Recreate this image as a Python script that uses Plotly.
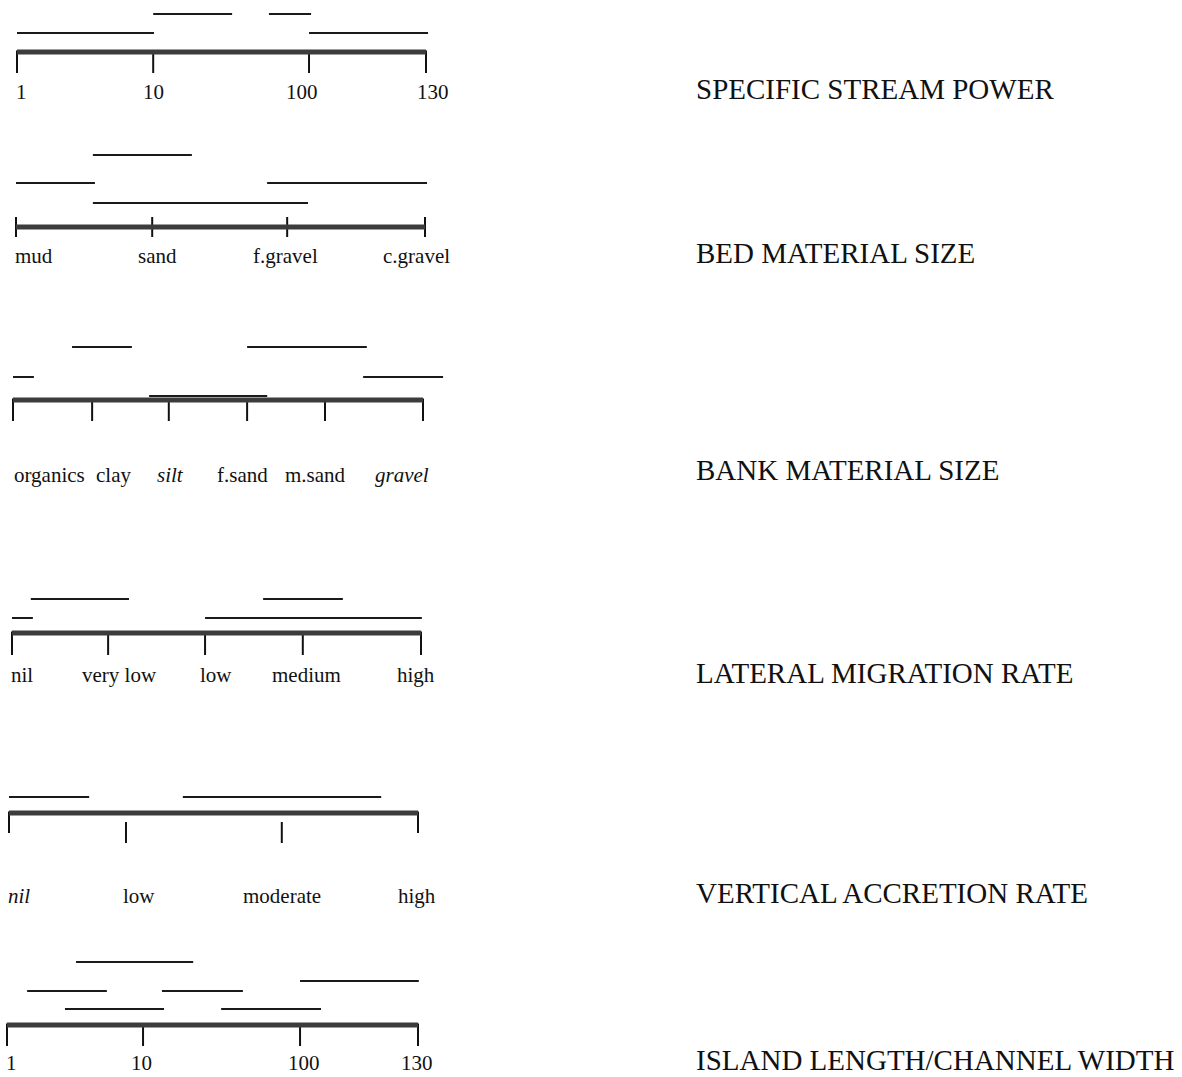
import plotly.graph_objects as go

# ---------------- DATA (positions in % of each scale bar's length) ----------------
# Specific stream power
power_tick_pos = [0, 33.3, 71.4, 100]
power_tick_labels = ["1", "10", "100", "130"]
power_label_pos = [1.2, 33.3, 69.7, 101.7]
power_range_start = [0, 71.4, 33.3, 61.6]
power_range_end = [33.5, 100.5, 52.6, 71.9]
power_range_lane = [1.0, 1.0, 2.0, 2.0]

# Bed material size
bed_tick_pos = [0, 33.3, 66.3, 100]
bed_tick_labels = ["mud", "sand", "f.gravel", "c.gravel"]
bed_label_pos = [4.4, 34.7, 66.0, 97.8]
bed_range_start = [18.8, 0, 61.4, 18.8]
bed_range_end = [71.4, 19.3, 100.5, 43.0]
bed_range_lane = [1.26, 2.32, 2.32, 3.79]

# Bank material size
bank_tick_pos = [0, 19.3, 38.0, 57.1, 76.1, 100]
bank_tick_labels = ["organics", "clay", "<i>silt</i>", "f.sand", "m.sand", "<i>gravel</i>"]
bank_label_pos = [8.8, 24.4, 38.5, 55.9, 73.9, 94.9]
bank_range_start = [33.2, 0, 85.4, 14.4, 57.1]
bank_range_end = [62.0, 5.1, 104.9, 29.0, 86.3]
bank_range_lane = [0.21, 1.21, 1.21, 2.79, 2.79]

# Lateral migration rate
lateral_tick_pos = [0, 23.5, 47.2, 71.1, 100]
lateral_tick_labels = ["nil", "very low", "low", "medium", "high"]
lateral_label_pos = [2.4, 26.4, 49.9, 72.1, 98.8]
lateral_range_start = [0, 47.2, 4.6, 61.4]
lateral_range_end = [5.1, 100.2, 28.6, 80.9]
lateral_range_lane = [0.79, 0.79, 1.79, 1.79]

# Vertical accretion rate
vertical_tick_pos = [0, 28.6, 66.7, 100]
vertical_tick_labels = ["<i>nil</i>", "low", "moderate", "high"]
vertical_label_pos = [2.4, 31.8, 66.7, 99.8]
vertical_range_start = [0, 42.5]
vertical_range_end = [19.6, 91.0]
vertical_range_lane = [0.84, 0.84]

# Island length / channel width
island_tick_pos = [0, 33.1, 71.3, 100]
island_tick_labels = ["1", "10", "100", "130"]
island_label_pos = [1.2, 32.8, 72.3, 99.8]
island_range_start = [16.8, 71.3, 4.9, 37.7, 14.1, 52.1]
island_range_end = [45.3, 100.2, 24.3, 57.4, 38.2, 76.4]
island_range_lane = [3.32, 2.32, 1.79, 1.79, 0.84, 0.84]

titles = ["SPECIFIC STREAM POWER", "BED MATERIAL SIZE", "BANK MATERIAL SIZE",
          "LATERAL MIGRATION RATE", "VERTICAL ACCRETION RATE", "ISLAND LENGTH/CHANNEL WIDTH"]

# ---------------- LAYOUT / STYLE ----------------
W, H = 1182, 1077
LANE_PX = 19.0
FONT = "Liberation Serif"
INK = "#111111"

# per panel (page pixels): bar row, bar left/right, label row, title row, tick style
panel_layout = [
    dict(bar=52, left=17, right=426, label=92, title=89, style="down", tick_len=21),
    dict(bar=227, left=16, right=425, label=256, title=253, style="both", tick_len=10),
    dict(bar=400, left=13, right=423, label=475, title=470, style="down", tick_len=21),
    dict(bar=633, left=12, right=421, label=675, title=673, style="down", tick_len=22),
    dict(bar=813, left=9, right=418, label=896, title=893, style="detached", tick_len=20),
    dict(bar=1025, left=7, right=418, label=1063, title=1060, style="down", tick_len=21),
]
TITLE_X = 694

panels = [
    (power_tick_pos, power_tick_labels, power_label_pos, power_range_start, power_range_end, power_range_lane),
    (bed_tick_pos, bed_tick_labels, bed_label_pos, bed_range_start, bed_range_end, bed_range_lane),
    (bank_tick_pos, bank_tick_labels, bank_label_pos, bank_range_start, bank_range_end, bank_range_lane),
    (lateral_tick_pos, lateral_tick_labels, lateral_label_pos, lateral_range_start, lateral_range_end, lateral_range_lane),
    (vertical_tick_pos, vertical_tick_labels, vertical_label_pos, vertical_range_start, vertical_range_end, vertical_range_lane),
    (island_tick_pos, island_tick_labels, island_label_pos, island_range_start, island_range_end, island_range_lane),
]

fig = go.Figure()
annotations = []
layout_axes = {}

for i, ((tpos, tlab, lpos, rs, re_, rl), cfg) in enumerate(zip(panels, panel_layout), start=1):
    xa = "x" if i == 1 else f"x{i}"
    ya = "y" if i == 1 else f"y{i}"
    span = cfg["right"] - cfg["left"]
    to_u = lambda px: (px - cfg["left"]) / span * 100.0
    to_lane = lambda py: (cfg["bar"] - py) / LANE_PX
    tl = cfg["tick_len"] / LANE_PX

    # range segments
    xs, ys = [], []
    for s, e, l in zip(rs, re_, rl):
        xs += [s, e, None]
        ys += [l, l, None]
    fig.add_trace(go.Scatter(x=xs, y=ys, mode="lines", xaxis=xa, yaxis=ya,
                             line=dict(color="#1a1a1a", width=2), hoverinfo="skip", showlegend=False))

    # ticks
    xs, ys = [], []
    for k, t in enumerate(tpos):
        end = k == 0 or k == len(tpos) - 1
        if cfg["style"] == "both":
            top, bot = tl, -tl
        elif cfg["style"] == "detached" and not end:
            top, bot = -9 / LANE_PX, -30 / LANE_PX
        else:
            top, bot = 0.08, -tl
        xs += [t, t, None]
        ys += [top, bot, None]
    fig.add_trace(go.Scatter(x=xs, y=ys, mode="lines", xaxis=xa, yaxis=ya,
                             line=dict(color=INK, width=2), hoverinfo="skip", showlegend=False))

    # scale bar
    fig.add_trace(go.Scatter(x=[tpos[0], tpos[-1]], y=[0, 0], mode="lines", xaxis=xa, yaxis=ya,
                             line=dict(color="#3c3c3c", width=5), hoverinfo="skip", showlegend=False))

    # tick labels
    for p, txt in zip(lpos, tlab):
        annotations.append(dict(x=p, y=to_lane(cfg["label"]), xref=xa, yref=ya, text=txt,
                                showarrow=False, xanchor="center", yanchor="middle",
                                font=dict(family=FONT, size=21, color=INK)))

    # title
    annotations.append(dict(x=TITLE_X / W, y=1 - cfg["title"] / H,
                            xref="paper", yref="paper",
                            text=titles[i - 1], showarrow=False, xanchor="left", yanchor="middle",
                            font=dict(family=FONT, size=29, color=INK)))

    axis_common = dict(visible=False, showgrid=False, zeroline=False, fixedrange=True)
    layout_axes["xaxis" if i == 1 else f"xaxis{i}"] = dict(
        domain=[0, 1], range=[to_u(0), to_u(W)], anchor=ya, **axis_common)
    layout_axes["yaxis" if i == 1 else f"yaxis{i}"] = dict(
        domain=[0, 1], range=[to_lane(H), to_lane(0)], anchor=xa, **axis_common)

fig.update_layout(
    width=W, height=H, autosize=False,
    margin=dict(l=0, r=0, t=0, b=0, pad=0),
    paper_bgcolor="white", plot_bgcolor="rgba(0,0,0,0)",
    annotations=annotations, showlegend=False,
    **layout_axes,
)

fig.write_html("out.html",
               config={"displayModeBar": False},
               post_script="document.body.style.margin='0';document.body.style.overflow='hidden';")
